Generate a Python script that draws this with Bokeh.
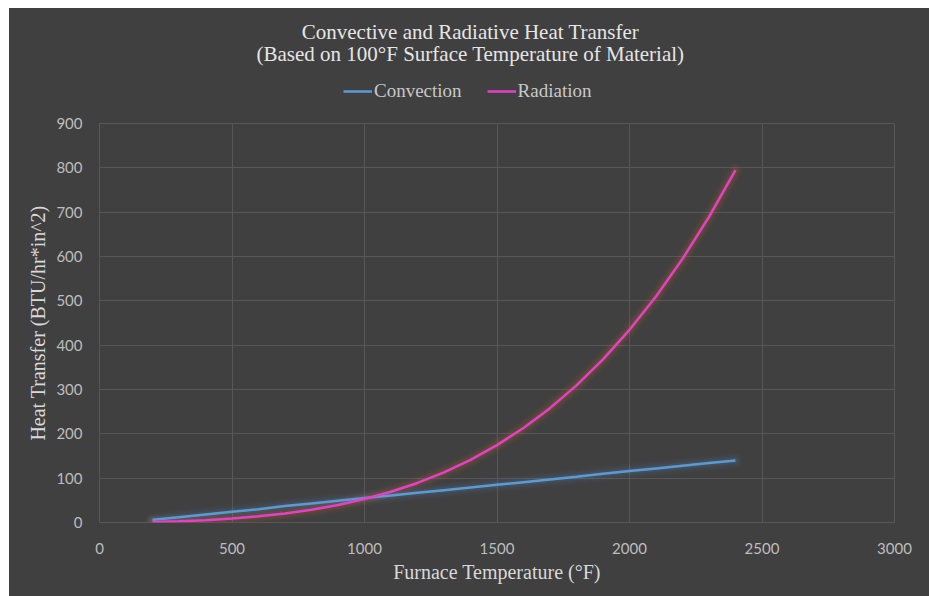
from bokeh.plotting import figure
from bokeh.models import Legend, LegendItem, Range1d, FixedTicker, Label
from bokeh.layouts import column
from bokeh.embed import file_html
from bokeh.resources import INLINE

# Furnace temperature (°F)
temps = [200, 300, 400, 500, 600, 700, 800, 900, 1000, 1100, 1200, 1300,
         1400, 1500, 1600, 1700, 1800, 1900, 2000, 2100, 2200, 2300, 2400]
# Heat transfer (BTU/hr*in^2)
convection = [6, 12, 18, 24, 30, 37, 43, 49, 55, 61, 67, 73,
              79, 85, 91, 97, 103, 110, 116, 122, 128, 134, 140]
radiation = [1.1, 2.8, 5.3, 8.9, 13.9, 20.4, 28.8, 39.5, 52.9, 69.3, 89.2, 113.0,
             141.3, 174.5, 213.1, 257.9, 309.3, 368.0, 434.6, 509.9, 594.6, 689.4, 795.0]

x_ticks = [0, 500, 1000, 1500, 2000, 2500, 3000]
y_ticks = [0, 100, 200, 300, 400, 500, 600, 700, 800, 900]
title_lines = ["Convective and Radiative Heat Transfer",
               "(Based on 100\u00b0F Surface Temperature of Material)"]
series_names = ["Convection", "Radiation"]

BG = "#404040"
GRID = "#575757"
SERIF = "Liberation Serif"
SANS = "Lato"
C_CONV = "#5b9bd5"
C_RAD = "#e83fc8"

W = 920
HEAD_H = 107
BL, BR = 90, 35   # main plot side borders (header frame is aligned to them)

# ---------- header (titles + legend) ----------
head = figure(width=W, height=HEAD_H, output_backend="svg", toolbar_location=None,
              x_range=Range1d(BL, W - BR), y_range=Range1d(0, HEAD_H),
              x_axis_location=None, y_axis_location=None,
              min_border_left=BL, min_border_right=BR,
              min_border_top=0, min_border_bottom=0)
head.background_fill_color = BG
head.border_fill_color = BG
head.outline_line_color = BG
head.outline_line_width = 3
head.grid.visible = False

for txt, yy in zip(title_lines, [84, 62]):
    head.add_layout(Label(x=461, y=yy, text=txt, text_align="center", text_baseline="middle",
                          text_color="#e6e6e6", text_font=SERIF, text_font_size="21px"))

h_conv = head.line([-100, -90], [-100, -90], line_color=C_CONV, line_width=2.5)
h_rad = head.line([-100, -90], [-100, -90], line_color=C_RAD, line_width=2.5)
legend = Legend(items=[LegendItem(label=series_names[0], renderers=[h_conv]),
                       LegendItem(label=series_names[1], renderers=[h_rad])],
                orientation="horizontal", location=(338 - 4 - BL, 13),
                background_fill_alpha=0, border_line_color=None,
                label_text_color="#c8c8c8", label_text_font=SERIF,
                label_text_font_size="19px", glyph_width=29, glyph_height=16,
                label_standoff=2, spacing=25, padding=4, margin=0)
head.add_layout(legend, "center")

# ---------- main chart ----------
p = figure(width=W, height=596 - 8 - HEAD_H, output_backend="svg", toolbar_location=None,
           x_range=Range1d(0, 3000), y_range=Range1d(0, 900),
           min_border_left=BL, min_border_right=BR, min_border_top=8, min_border_bottom=74)
p.background_fill_color = BG
p.border_fill_color = BG
p.outline_line_color = GRID

p.xaxis.ticker = FixedTicker(ticks=x_ticks)
p.yaxis.ticker = FixedTicker(ticks=y_ticks)
for ax in (p.xaxis[0], p.yaxis[0]):
    ax.axis_line_color = None
    ax.major_tick_line_color = None
    ax.minor_tick_line_color = None
    ax.major_tick_out = 0
    ax.major_tick_in = 0
    ax.minor_tick_out = 0
    ax.major_label_text_color = "#bdbdbd"
    ax.major_label_text_font = SANS
    ax.major_label_text_font_size = "15px"
    ax.axis_label_text_color = "#d9d9d9"
    ax.axis_label_text_font = SERIF
    ax.axis_label_text_font_size = "20px"
    ax.axis_label_text_font_style = "normal"
p.xaxis.axis_label = "Furnace Temperature (\u00b0F)"
p.yaxis.axis_label = "Heat Transfer (BTU/hr*in^2)"
p.xaxis.major_label_standoff = 20
p.yaxis.major_label_standoff = 17
p.xaxis.axis_label_standoff = 4
p.yaxis.axis_label_standoff = 4

p.xgrid.grid_line_color = GRID
p.ygrid.grid_line_color = GRID

# soft glow under the lines
for w, a in [(14, 0.05), (10, 0.07), (6, 0.10)]:
    p.line(temps, convection, line_color="#5b8fc8", line_width=w, line_alpha=a, line_cap="round")
    p.line(temps, radiation, line_color="#d0702a", line_width=w, line_alpha=a, line_cap="round")

p.line(temps, convection, line_color=C_CONV, line_width=2.5)
p.line(temps, radiation, line_color=C_RAD, line_width=2.5)

layout = column(head, p, spacing=0, margin=(8, 0, 0, 9), styles={"background-color": BG})
open("out.html", "w").write(file_html(layout, INLINE))
